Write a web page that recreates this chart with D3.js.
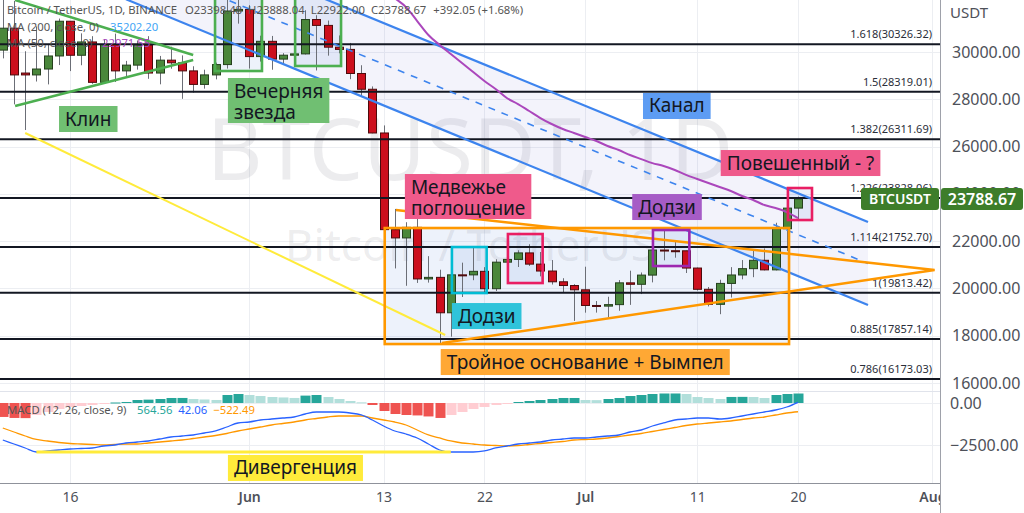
<!DOCTYPE html>
<html>
<head>
<meta charset="utf-8">
<script src="https://cdnjs.cloudflare.com/ajax/libs/d3/7.8.5/d3.min.js"></script>
<style>
  html, body { margin: 0; padding: 0; background: #fff; }
  svg { display: block; font-family: "Noto Sans", sans-serif; }
</style>
</head>
<body>
<svg width="1024" height="513"></svg>
<script>
// BTCUSDT daily, 10 May - 20 Jul 2022
const dates = [
  "2022-05-10","2022-05-11","2022-05-12","2022-05-13","2022-05-14","2022-05-15","2022-05-16","2022-05-17","2022-05-18","2022-05-19",
  "2022-05-20","2022-05-21","2022-05-22","2022-05-23","2022-05-24","2022-05-25","2022-05-26","2022-05-27","2022-05-28","2022-05-29",
  "2022-05-30","2022-05-31",
  "2022-06-01","2022-06-02","2022-06-03","2022-06-04","2022-06-05","2022-06-06","2022-06-07","2022-06-08","2022-06-09","2022-06-10",
  "2022-06-11","2022-06-12","2022-06-13","2022-06-14","2022-06-15","2022-06-16","2022-06-17","2022-06-18","2022-06-19","2022-06-20",
  "2022-06-21","2022-06-22","2022-06-23","2022-06-24","2022-06-25","2022-06-26","2022-06-27","2022-06-28","2022-06-29","2022-06-30",
  "2022-07-01","2022-07-02","2022-07-03","2022-07-04","2022-07-05","2022-07-06","2022-07-07","2022-07-08","2022-07-09","2022-07-10",
  "2022-07-11","2022-07-12","2022-07-13","2022-07-14","2022-07-15","2022-07-16","2022-07-17","2022-07-18","2022-07-19","2022-07-20"
];
const open = [30080,31007,29110,29030,29280,29832,31301,29862,30425,28716,30319,29201,29445,30293,29110,29655,29542,29201,28629,29031,29468,31734,
  31801,29806,30452,29700,29865,29920,31373,31125,30204,30110,29091,28424,26575,22486,22136,22583,20401,20468,18970,20574,20573,20723,19988,21111,21227,21502,21028,20736,20281,20123,
  19942,19279,19252,19315,20236,20175,20564,21624,21595,21591,20862,19963,19328,20212,20569,20836,21190,20785,22525,23398];
const high = [32658,32162,30032,31083,30343,31414,31301,30789,30669,30545,30777,29624,30487,30670,29834,30223,29856,29397,29251,29550,32222,32399,
  31982,30690,30679,29950,30189,31766,31556,31330,30700,30383,29440,28544,26895,23362,22800,22995,21365,20792,20815,21090,21723,20900,21233,21558,21614,21868,21540,21200,20432,20179,
  20918,19467,19647,20354,20750,20675,21838,22527,21960,21597,20882,20060,20366,20900,21200,21600,21689,22777,23800,23888];
const low = [29730,27785,26700,28751,28630,29447,29192,29440,28654,28694,28730,28947,29255,28866,28633,29294,28019,28282,28450,28843,29299,31200,
  29301,29594,29250,29485,29531,29895,29219,29845,29944,28850,28100,26560,21925,20846,20111,20232,20246,17622,17960,19637,20348,19770,19890,20740,20906,20950,20510,20164,19846,18626,
  18975,18977,18781,19055,19304,19761,20256,21189,21300,20652,19910,19240,18910,19616,20385,20476,20761,20762,21581,22922];
const close = [31007,29030,29030,29280,29832,31301,29862,30425,28716,30319,29201,29445,30293,29110,29655,29542,29201,28629,29031,29468,31734,31801,
  29806,30452,29700,29865,29920,31373,31125,30204,30110,29091,28424,26575,22487,22136,22584,20401,20468,18970,20574,20573,20723,19987,21111,21227,21502,21028,20736,20281,20123,19942,
  19279,19252,19315,20236,20175,20564,21624,21595,21591,20862,19963,19328,20212,20569,20836,21190,20785,22525,23397,23788.67];

// MA(50) from 13 Jun on (earlier values are above the visible range)
const ma50Start = 34;
const ma50 = [32700,32280,31900,31310,30720,30300,29915,29535,29154,28773,28435,28054,27800,27504,27208,26954,26743,26574,26404,26235,
  26024,25855,25643,25470,25300,25180,25010,24800,24630,24460,24290,24120,23910,23740,23530,23400,23230,22972];

// MACD (12, 26, close, 9)
const macdLine = [-2202,-2440,-2678,-2916,-2856,-2797,-2737,-2707,-2678,-2559,-2499,-2380,-2321,-2261,-2142,-2023,-1964,-1904,-1785,-1666,
  -1428,-1190,-1131,-1012,-952,-893,-833,-655,-536,-536,-536,-595,-714,-1012,-1369,-1666,-1845,-2083,-2440,-2797,
  -2916,-2916,-2916,-2856,-2678,-2559,-2440,-2380,-2321,-2202,-2142,-2083,-2083,-2023,-1964,-1904,-1726,-1607,-1369,-1190,
  -1012,-952,-893,-893,-952,-893,-774,-655,-536,-417,-238,42];
const signalLine = [-1488,-1726,-1964,-2172,-2261,-2350,-2410,-2440,-2469,-2499,-2469,-2440,-2440,-2380,-2321,-2261,-2202,-2112,-2023,-1934,
  -1815,-1666,-1547,-1428,-1309,-1220,-1131,-1012,-922,-833,-774,-774,-774,-893,-1012,-1131,-1309,-1607,-1904,-2083,
  -2261,-2380,-2440,-2499,-2529,-2559,-2529,-2469,-2410,-2350,-2291,-2202,-2172,-2142,-2083,-1993,-1904,-1815,-1696,-1577,
  -1458,-1339,-1250,-1190,-1131,-1071,-982,-893,-833,-714,-595,-522];
const histogram = [-830,-890,-900,-714,-535,-357,-238,-178,-119,-60,30,60,178,200,238,298,300,238,210,180,
  476,535,476,416,357,330,300,440,476,357,238,119,40,-119,-476,-655,-714,-740,-800,-890,
  -714,-535,-357,-238,-119,-40,60,119,178,238,298,298,178,170,238,298,416,476,535,565,
  566,535,357,298,238,360,365,357,298,476,535,564];

// fibonacci extension levels
const fibRatios = ["1.618","1.5","1.382","1.226","1.114","1","0.885","0.786"];
const fibPrices = [30326.32,28319.01,26311.69,23828.06,21752.70,19813.42,17857.14,16173.03];

const priceTicks = [16000,18000,20000,22000,24000,26000,28000,30000];
const macdTicks = [0,-2500];
const timeTicks = ["2022-05-16","2022-06-01","2022-06-13","2022-06-22","2022-07-01","2022-07-11","2022-07-20","2022-08-01"];
const timeTickLabels = ["16","Jun","13","22","Jul","11","20","Aug"];

// drawings, time as days after 16 May
const channel = { d: [5, 71.25], lower: [32230, 19300], upper: [35700, 22810] };
const wedgeUpper = [[-4.9, 32200], [11, 29873]];
const wedgeLower = [[-4.9, 27716], [11, 29662]];
const yellowLine = [[-4, 26574], [33.5, 18030]];
const pennant = [[29.1, 23316], [77.2, 20778], [33.2, 17690]];
const divergence = [[-3, -2916], [34, -2916]];
const boxes = [
  { d: [12.95, 17.14], p: [32800, 29196], kind: "green" },
  { d: [20.1, 24.2], p: [32800, 29408], kind: "green" },
  { d: [28.1, 64.2], p: [22555, 17648], kind: "orange" },
  { d: [34.1, 37.2], p: [21751, 19805], kind: "cyan" },
  { d: [39.1, 42.2], p: [22301, 20228], kind: "pink" },
  { d: [52.05, 55.3], p: [22470, 20947], kind: "purple" },
  { d: [64.1, 66.25], p: [24247, 22893], kind: "pink" }
];
const labels = [
  { text: ["Клин"], d: -0.98, p: 27716, kind: "green" },
  { text: ["Вечерняя", "звезда"], d: 14.1, p: 28900, kind: "green" },
  { text: ["Канал"], d: 51.16, p: 28266, kind: "blue" },
  { text: ["Медвежье", "поглощение"], d: 29.9, p: 24839, kind: "pink" },
  { text: ["Додзи"], d: 34.1, p: 19382, kind: "cyan" },
  { text: ["Додзи"], d: 50.2, p: 23993, kind: "purple" },
  { text: ["Повешенный - ?"], d: 58.1, p: 25854, kind: "pink" },
  { text: ["Тройное основание + Вымпел"], d: 33.1, p: 17437, kind: "orange" }
];
const macdLabels = [{ text: ["Дивергенция"], d: 14.1, v: -3094, kind: "yellow" }];

const lineColor = { green: "#4caf50", orange: "#ff9800", cyan: "#00bcd4", pink: "#e91e63", purple: "#9c27b0" };
const labelColor = { green: "#70bf72", blue: "#5d9cf3", pink: "#ef5a8b", cyan: "#2fc3da", purple: "#a65cc6", orange: "#ffa834", yellow: "#ffeb3b" };

// ---------------------------------------------------------------
const svg = d3.select("svg");
const W = 1024, H = 513, PW = 940, MAIN_B = 391, AX_Y = 483;
const parse = d3.utcParse("%Y-%m-%d");
const base = parse("2022-05-16");
const t = d => new Date(+base + d * 864e5);

const x = d3.scaleUtc().domain([base, parse("2022-08-01")]).range([70, 70 + 77 * 11.2]);
const y = d3.scaleLinear().domain([16000, 30000]).range([383, 52]);
const ym = d3.scaleLinear().domain([-2500, 0]).range([445, 403]);

const candles = dates.map((s, i) => ({ date: parse(s), o: open[i], h: high[i], l: low[i], c: close[i] }));

svg.append("rect").attr("width", W).attr("height", H).attr("fill", "#fff");
const defs = svg.append("defs");
defs.append("clipPath").attr("id", "cMain").append("rect").attr("width", PW).attr("height", MAIN_B);
defs.append("clipPath").attr("id", "cMacd").append("rect").attr("y", MAIN_B).attr("width", PW).attr("height", AX_Y - MAIN_B);
defs.append("clipPath").attr("id", "cTime").append("rect").attr("y", AX_Y).attr("width", PW).attr("height", H - AX_Y);

// grid
const grid = svg.append("g").attr("stroke", "#eceef2").attr("stroke-width", 1);
grid.selectAll(".gv").data(timeTicks).join("line")
  .attr("x1", d => Math.round(x(parse(d))) + 0.5).attr("x2", d => Math.round(x(parse(d))) + 0.5)
  .attr("y1", 0).attr("y2", AX_Y);
grid.selectAll(".gh").data(priceTicks).join("line")
  .attr("x1", 0).attr("x2", PW).attr("y1", d => Math.round(y(d)) + 0.5).attr("y2", d => Math.round(y(d)) + 0.5);
grid.selectAll(".gm").data(macdTicks).join("line")
  .attr("x1", 0).attr("x2", PW).attr("y1", d => Math.round(ym(d)) + 0.5).attr("y2", d => Math.round(ym(d)) + 0.5);

// main pane
const main = svg.append("g").attr("clip-path", "url(#cMain)");

main.append("text").attr("x", 470).attr("y", 180).attr("text-anchor", "middle")
  .attr("font-size", 86).attr("fill", "#787b86").attr("fill-opacity", 0.14).text("BTCUSDT, 1D");
main.append("text").attr("x", 470).attr("y", 261).attr("text-anchor", "middle")
  .attr("font-size", 44).attr("fill", "#787b86").attr("fill-opacity", 0.14).text("Bitcoin / TetherUS");

// channel band
const chAt = (k, f) => channel[k][0] + (channel[k][1] - channel[k][0]) * f;
main.append("path")
  .attr("d", d3.line()([
    [x(t(channel.d[0])), y(channel.lower[0])], [x(t(channel.d[1])), y(channel.lower[1])],
    [x(t(channel.d[1])), y(channel.upper[1])], [x(t(channel.d[0])), y(channel.upper[0])]
  ]) + "Z")
  .attr("fill", "#7b7fd6").attr("fill-opacity", 0.09);

// box fills
main.selectAll(".boxfill").data(boxes).join("rect")
  .attr("x", d => x(t(d.d[0]))).attr("y", d => y(d.p[0]))
  .attr("width", d => x(t(d.d[1])) - x(t(d.d[0]))).attr("height", d => y(d.p[1]) - y(d.p[0]))
  .attr("fill", "#4f7fd8").attr("fill-opacity", 0.1);

// candles
const bw = 8;
const cg = main.append("g");
cg.selectAll(".wick").data(candles).join("line")
  .attr("x1", d => Math.round(x(d.date)) + 0.5).attr("x2", d => Math.round(x(d.date)) + 0.5)
  .attr("y1", d => y(d.h)).attr("y2", d => y(d.l))
  .attr("stroke", "#6b6e76").attr("stroke-width", 1);
cg.selectAll(".body").data(candles).join("rect")
  .attr("x", d => Math.round(x(d.date)) - bw / 2 + 0.5)
  .attr("y", d => y(Math.max(d.o, d.c)))
  .attr("width", bw)
  .attr("height", d => Math.max(1, Math.abs(y(d.o) - y(d.c))))
  .attr("fill", d => d.c >= d.o ? "#4a873b" : "#cc0f1d")
  .attr("stroke", d => d.c >= d.o ? "#25401d" : "#4d0a0c").attr("stroke-width", 1);

// fib levels
const fib = main.append("g");
fib.selectAll("line").data(fibPrices).join("line")
  .attr("x1", 0).attr("x2", PW).attr("y1", d => y(d)).attr("y2", d => y(d))
  .attr("stroke", "#131722").attr("stroke-width", 2);
fib.selectAll("text").data(fibPrices).join("text")
  .attr("x", 932).attr("y", d => y(d) - 6).attr("text-anchor", "end")
  .attr("font-size", 11).attr("fill", "#2a2e39")
  .text((d, i) => `${fibRatios[i]}(${d.toFixed(2)})`);

// channel lines
const seg = pts => d3.line()(pts.map(p => [x(t(p[0])), y(p[1])]));
main.append("path").attr("d", seg([[channel.d[0], channel.upper[0]], [channel.d[1], channel.upper[1]]]))
  .attr("stroke", "#3d84ee").attr("stroke-width", 2.2).attr("fill", "none");
main.append("path").attr("d", seg([[channel.d[0], channel.lower[0]], [channel.d[1], channel.lower[1]]]))
  .attr("stroke", "#3d84ee").attr("stroke-width", 2.2).attr("fill", "none");
main.append("path").attr("d", seg([[channel.d[0], chAt("lower", 0) / 2 + chAt("upper", 0) / 2], [channel.d[1], chAt("lower", 1) / 2 + chAt("upper", 1) / 2]]))
  .attr("stroke", "#3d84ee").attr("stroke-width", 1.6).attr("stroke-dasharray", "7,7").attr("fill", "none");

// MA 50
main.append("path")
  .attr("d", d3.line().x((v, i) => x(candles[ma50Start + i].date)).y(v => y(v)).curve(d3.curveMonotoneX)(ma50))
  .attr("stroke", "#ab47bc").attr("stroke-width", 2).attr("fill", "none");

// wedge, yellow, pennant
main.append("path").attr("d", seg(wedgeUpper)).attr("stroke", lineColor.green).attr("stroke-width", 2.5).attr("fill", "none");
main.append("path").attr("d", seg(wedgeLower)).attr("stroke", lineColor.green).attr("stroke-width", 2.5).attr("fill", "none");
main.append("path").attr("d", seg(yellowLine)).attr("stroke", "#ffeb3b").attr("stroke-width", 2).attr("fill", "none");
main.append("path").attr("d", seg(pennant)).attr("stroke", lineColor.orange).attr("stroke-width", 2.5).attr("fill", "none");

// box outlines
main.selectAll(".boxline").data(boxes).join("rect")
  .attr("x", d => x(t(d.d[0]))).attr("y", d => y(d.p[0]))
  .attr("width", d => x(t(d.d[1])) - x(t(d.d[0]))).attr("height", d => y(d.p[1]) - y(d.p[0]))
  .attr("fill", "none").attr("stroke", d => lineColor[d.kind]).attr("stroke-width", 2.6);

// labels
function drawLabel(g, lab, px, py) {
  const lg = g.append("g");
  const r = lg.append("rect");
  const tx = lg.append("text").attr("font-size", 19).attr("fill", "#131722");
  lab.text.forEach((s, i) => tx.append("tspan").attr("x", px + 6).attr("y", py + 19.5 + i * 21).text(s));
  const bb = tx.node().getBBox();
  r.attr("x", px).attr("y", py).attr("width", bb.width + 12)
    .attr("height", lab.text.length > 1 ? 45 : 26).attr("fill", labelColor[lab.kind]);
}
labels.forEach(l => drawLabel(main, l, x(t(l.d)), y(l.p)));

// MACD pane
const mp = svg.append("g").attr("clip-path", "url(#cMacd)");
mp.selectAll(".hist").data(histogram).join("rect")
  .attr("x", (v, i) => Math.round(x(candles[i].date)) - 4.5)
  .attr("width", 10)
  .attr("y", v => ym(Math.max(0, v)))
  .attr("height", v => Math.max(1, Math.abs(ym(v) - ym(0))))
  .attr("fill", (v, i) => {
    const prev = i > 0 ? histogram[i - 1] : v;
    if (v >= 0) return v >= prev ? "#26a69a" : "#b2dfdb";
    return v <= prev ? "#ef5350" : "#ffcdd2";
  });
const mline = d3.line().x((v, i) => x(candles[i].date)).y(v => ym(v)).curve(d3.curveMonotoneX);
mp.append("path").attr("d", mline(signalLine)).attr("stroke", "#ff9800").attr("stroke-width", 1.3).attr("fill", "none");
mp.append("path").attr("d", mline(macdLine)).attr("stroke", "#2962ff").attr("stroke-width", 1.3).attr("fill", "none");
mp.append("path").attr("d", d3.line()(divergence.map(p => [x(t(p[0])), ym(p[1])])))
  .attr("stroke", "#ffeb3b").attr("stroke-width", 3).attr("fill", "none");
macdLabels.forEach(l => drawLabel(mp, l, x(t(l.d)), ym(l.v)));

const mt = svg.append("text").attr("x", 7).attr("y", 414).attr("font-size", 11.3);
mt.append("tspan").attr("fill", "#555").text("MACD (12, 26, close, 9)");
mt.append("tspan").attr("fill", "#26a69a").attr("x", 137).text("564.56");
mt.append("tspan").attr("fill", "#2962ff").attr("dx", 6).text("42.06");
mt.append("tspan").attr("fill", "#ff9800").attr("dx", 6).text("−522.49");

// pane frame
svg.append("line").attr("x1", 0).attr("x2", PW).attr("y1", MAIN_B + 0.5).attr("y2", MAIN_B + 0.5).attr("stroke", "#e0e3eb");
svg.append("line").attr("x1", 0).attr("x2", PW).attr("y1", AX_Y + 0.5).attr("y2", AX_Y + 0.5).attr("stroke", "#8f929b");
svg.append("line").attr("x1", PW + 0.5).attr("x2", PW + 0.5).attr("y1", 0).attr("y2", H).attr("stroke", "#9ea1aa");

// axes
const yAxis = svg.append("g").attr("transform", `translate(${PW},0)`)
  .call(d3.axisRight(y).tickValues(priceTicks).tickSize(0).tickPadding(12).tickFormat(d3.format(".2f")));
const mAxis = svg.append("g").attr("transform", `translate(${PW},0)`)
  .call(d3.axisRight(ym).tickValues(macdTicks).tickSize(0).tickPadding(10).tickFormat(d3.format(".2f")));
[yAxis, mAxis].forEach(a => {
  a.select(".domain").remove();
  a.selectAll("text").attr("font-size", 16).attr("fill", "#4e5159").attr("font-family", "Noto Sans, sans-serif");
});
svg.append("text").attr("x", 950).attr("y", 18).attr("font-size", 15).attr("fill", "#4e5159").text("USDT");

const xAxis = svg.append("g").attr("clip-path", "url(#cTime)").append("g").attr("transform", `translate(0,${AX_Y})`)
  .call(d3.axisBottom(x).tickValues(timeTicks.map(parse)).tickSize(0).tickPadding(9)
    .tickFormat((d, i) => timeTickLabels[i]));
xAxis.select(".domain").remove();
xAxis.selectAll("text").attr("font-size", 14).attr("fill", "#4e5159").attr("font-family", "Noto Sans, sans-serif")
  .attr("font-weight", (d, i) => /^[A-Z]/.test(timeTickLabels[i]) ? 600 : 400);

// last price label
const last = candles[candles.length - 1];
const lp = svg.append("g").attr("transform", `translate(0,${Math.round(y(last.c))})`);
lp.append("rect").attr("x", 861).attr("y", -11).attr("width", 78).attr("height", 22).attr("rx", 3).attr("fill", "#3d7d2a");
lp.append("rect").attr("x", 941).attr("y", -11).attr("width", 82).attr("height", 22).attr("rx", 3).attr("fill", "#3d7d2a");
lp.append("text").attr("x", 900).attr("y", 5).attr("text-anchor", "middle").attr("font-size", 14)
  .attr("font-weight", 600).attr("fill", "#fff").text("BTCUSDT");
lp.append("text").attr("x", 982).attr("y", 6).attr("text-anchor", "middle").attr("font-size", 16)
  .attr("font-weight", 600).attr("fill", "#fff").text(last.c.toFixed(2));

// legend
const lg1 = svg.append("text").attr("x", 7).attr("y", 14).attr("font-size", 11.3).attr("fill", "#555");
lg1.append("tspan").text("Bitcoin / TetherUS, 1D, BINANCE");
lg1.append("tspan").attr("x", 185).text("O23398.48");
lg1.append("tspan").attr("dx", 6).text("H23888.04");
lg1.append("tspan").attr("dx", 6).text("L22922.00");
lg1.append("tspan").attr("dx", 6).text("C23788.67");
lg1.append("tspan").attr("dx", 7).text("+392.05 (+1.68%)");
const lg2 = svg.append("text").attr("x", 7).attr("y", 31).attr("font-size", 11.3).attr("fill", "#555");
lg2.append("tspan").text("MA (200, close, 0)");
lg2.append("tspan").attr("x", 110).attr("fill", "#42a5f5").text("35202.20");
const lg3 = svg.append("text").attr("x", 7).attr("y", 47).attr("font-size", 11.3).attr("fill", "#555");
lg3.append("tspan").text("MA (50, close, 0)");
lg3.append("tspan").attr("x", 102).attr("fill", "#ab47bc").text("22971.55");
</script>
</body>
</html>
